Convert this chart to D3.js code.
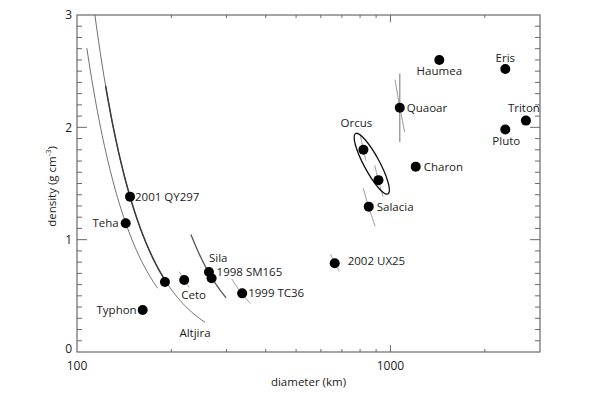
<!DOCTYPE html>
<html><head><meta charset="utf-8">
<script src="https://cdn.jsdelivr.net/npm/d3@7"></script>
<style>body{margin:0;background:#fff}svg{display:block}text{font-family:"Open Sans","Noto Sans",sans-serif;fill:#222}</style>
</head><body><svg id="c" width="600" height="394"></svg>
<script>
// ---- data ----
const names = ["2001 QY297","Teha","","Ceto","Sila","1998 SM165","1999 TC36","Typhon","2002 UX25","Salacia","Orcus","","Quaoar","Haumea","Charon","Eris","Pluto","Triton"];
const diameters = [147.6,143,190.8,219.8,263.6,268.8,336.5,162,664,852.6,820,915.6,1071,1432,1204,2325,2325,2705];
const densities = [1.383,1.146,0.623,0.641,0.712,0.656,0.522,0.374,0.79,1.294,1.80,1.53,2.175,2.60,1.65,2.52,1.98,2.06];
// constant-mass curves rho = M / D^3  (M in g cm^-3 km^3)
const curveMass = [4.45e6, 3.36e6, 1.29e7, 6.81e6, 1.97e7, 2.32e8, 8.0e8, 2.68e9, 9.925e8, 1.1744e9];
const curveDmin = [114, 107.5, 231, 212, 312, 644, 819, 1034, 800, 891];
const curveDmax = [256, 181, 299, 228, 357, 686, 894, 1110, 835, 947];
const curveKind = ["long","thin","sila","seg","seg","seg","seg","seg","seg","seg"];
const darkSegMass = 4.45e6, darkSegD = [123.4, 190];
const quaoarBarD = 1071, quaoarBarRho = [1.87, 2.48];
const ellipseTips = [[774,1.945],[982,1.407]];
const curveLabel = "Altjira", curveLabelD = 238, curveLabelRho = 0.17;
const xTickLabels = ["100","1000"];
const yTickLabels = ["0","1","2","3"];
// ---- layout (styles/positions) ----
const labelDx = [5,-7,0,-3,0,5,6,-6,13,8,-7,0,7,0,8,0,1,-18];
const labelDy = [0,0,0,15,-14,-6,0,0,-2,0,-27,0,0,11,0,-11,11,-13];
const labelAnchor = ["start","end","start","start","start","start","start","end","start","start","middle","start","start","middle","start","middle","middle","start"];

const svg = d3.select("#c");
const L=77,R=540,T=15,B=352;
const x = d3.scaleLog().domain([100,3000]).range([L,R]);
const y = d3.scaleLinear().domain([0,3]).range([B,T]);
const axisCol="#6a6a6a";

// curves
const line = d3.line().x(d=>x(d[0])).y(d=>y(d[1]));
function massPts(M,d0,d1){const n=60,out=[];for(let i=0;i<=n;i++){const D=d0*Math.pow(d1/d0,i/n);out.push([D,M/Math.pow(D,3)]);}return out;}
curveMass.forEach((M,i)=>{
  const k=curveKind[i];
  svg.append("path").attr("d",line(massPts(M,curveDmin[i],curveDmax[i]))).attr("fill","none")
   .attr("stroke", k==="sila"?"#555":(k==="seg"?"#8a8a8a":"#707070"))
   .attr("stroke-width", k==="sila"?1.3:1);
});
svg.append("path").attr("d",line(massPts(darkSegMass,darkSegD[0],darkSegD[1]))).attr("fill","none").attr("stroke","#3a3a3a").attr("stroke-width",1.5);
svg.append("line").attr("x1",x(quaoarBarD)).attr("x2",x(quaoarBarD)).attr("y1",y(quaoarBarRho[0])).attr("y2",y(quaoarBarRho[1])).attr("stroke","#8a8a8a").attr("stroke-width",1.2);

// ellipse
{
 const p1=[x(ellipseTips[0][0]),y(ellipseTips[0][1])], p2=[x(ellipseTips[1][0]),y(ellipseTips[1][1])];
 const cx=(p1[0]+p2[0])/2, cy=(p1[1]+p2[1])/2, a=Math.hypot(p2[0]-p1[0],p2[1]-p1[1])/2;
 const ang=Math.atan2(p2[1]-p1[1],p2[0]-p1[0])*180/Math.PI;
 svg.append("ellipse").attr("cx",0).attr("cy",0).attr("rx",a).attr("ry",7.8)
  .attr("transform",`translate(${cx},${cy}) rotate(${ang})`).attr("fill","none").attr("stroke","#111").attr("stroke-width",1.3);
}

// frame & ticks
svg.append("rect").attr("x",L).attr("y",T).attr("width",R-L).attr("height",B-T).attr("fill","none").attr("stroke",axisCol).attr("stroke-width",1.2);
const xt = x.ticks().filter(v=>v>100&&v<3000);
xt.forEach(v=>{
  const major = Math.abs(Math.log10(v)-Math.round(Math.log10(v)))<1e-9;
  const len = major?7:3;
  svg.append("line").attr("x1",x(v)).attr("x2",x(v)).attr("y1",B).attr("y2",B-len).attr("stroke",axisCol);
  svg.append("line").attr("x1",x(v)).attr("x2",x(v)).attr("y1",T).attr("y2",T+len).attr("stroke",axisCol);
});
d3.range(1,30).forEach(i=>{
  const v=i/10, major=(i%10===0), len=major?10:5;
  svg.append("line").attr("x1",L).attr("x2",L+len).attr("y1",y(v)).attr("y2",y(v)).attr("stroke",axisCol);
  svg.append("line").attr("x1",R).attr("x2",R-len).attr("y1",y(v)).attr("y2",y(v)).attr("stroke",axisCol);
});
xTickLabels.forEach(s=>{
  svg.append("text").attr("x",x(+s)).attr("y",B+18).attr("text-anchor","middle").attr("font-size",12).text(s);
});
yTickLabels.forEach(s=>{
  const v=+s;
  svg.append("text").attr("x",L-5).attr("y",y(v)-(v===0?3:0)).attr("dy","0.35em").attr("text-anchor","end").attr("font-size",12).text(s);
});
svg.append("text").attr("x",(L+R)/2).attr("y",386).attr("text-anchor","middle").attr("font-size",11.5).text("diameter (km)");
{
 const t=svg.append("text").attr("transform",`translate(56,${(T+B)/2+3}) rotate(-90)`).attr("text-anchor","middle").attr("font-size",11.5);
 t.append("tspan").text("density (g cm");
 t.append("tspan").attr("font-size",7.5).attr("dy",-5).text("-3");
 t.append("tspan").attr("dy",5).text(")");
}

// points
diameters.forEach((D,i)=>{
  svg.append("circle").attr("cx",x(D)).attr("cy",y(densities[i])).attr("r",5).attr("fill","#000");
  if(names[i]) svg.append("text").attr("x",x(D)+labelDx[i]).attr("y",y(densities[i])+labelDy[i]).attr("dy","0.35em")
     .attr("text-anchor",labelAnchor[i]).attr("font-size",11.5).text(names[i]);
});
svg.append("text").attr("x",x(curveLabelD)).attr("y",y(curveLabelRho)).attr("dy","0.35em").attr("text-anchor","middle").attr("font-size",11.5).text(curveLabel);
</script></body></html>
